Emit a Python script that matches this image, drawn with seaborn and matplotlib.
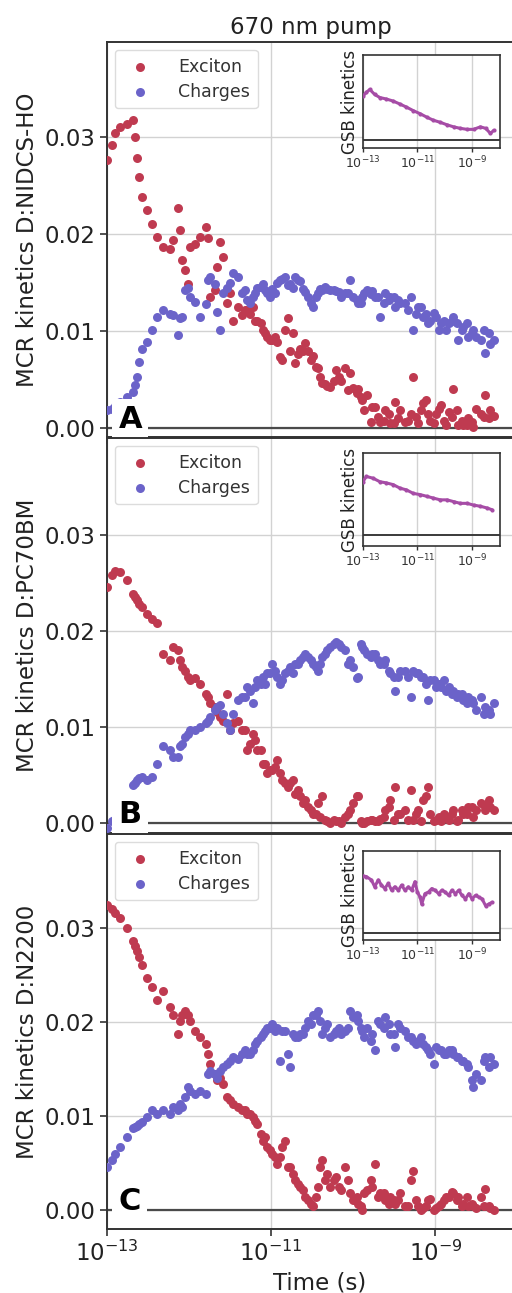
import numpy as np
import matplotlib
matplotlib.use("Agg")
import matplotlib.pyplot as plt
import seaborn as sns
from matplotlib import transforms
from matplotlib.ticker import FormatStrFormatter, NullLocator

# ---------------- data ----------------
# time grid 1, log10(seconds)
log_time = [-13.00, -12.94, -12.90, -12.84, -12.76, -12.68, -12.66, -12.63, -12.61, -12.57,
            -12.51, -12.45, -12.39, -12.32, -12.23, -12.20, -12.13, -12.11, -12.09, -12.05,
            -12.01, -11.99, -11.93, -11.87, -11.80, -11.77, -11.74, -11.68, -11.66, -11.62,
            -11.59, -11.54, -11.50, -11.46, -11.41, -11.35, -11.29, -11.22, -11.17, -11.10,
            -11.05, -10.99, -10.93, -10.89, -10.83, -10.79, -10.73, -10.71, -10.65, -10.59,
            -10.55, -10.49, -10.43, -10.38, -10.32, -10.24, -10.18, -10.10, -10.04, -10.00,
            -9.94, -9.89, -9.83, -9.79, -9.73, -9.67, -9.61, -9.55, -9.49, -9.45,
            -9.37, -9.30, -9.27, -9.21, -9.15, -9.09, -9.02, -8.96, -8.90, -8.84,
            -8.78, -8.72, -8.66, -8.60, -8.54, -8.45, -8.39, -8.35, -8.29]
# time grid 2 (interleaved points at later times), log10(seconds)
log_time_2 = [-11.32, -11.26, -11.20, -11.13, -11.07, -11.01, -10.95, -10.87, -10.77, -10.67,
              -10.61, -10.52, -10.46, -10.40, -10.34, -10.28, -10.21, -10.15, -10.06, -9.96,
              -9.91, -9.87, -9.77, -9.70, -9.63, -9.57, -9.51, -9.43, -9.33, -9.24,
              -9.18, -9.12, -9.06, -8.99, -8.93, -8.87, -8.80, -8.74, -8.68, -8.62,
              -8.56, -8.50, -8.41, -8.33]

exciton_A = [0.0276, 0.0292, 0.0304, 0.0310, 0.0314, 0.0318, 0.0300, 0.0279, 0.0259, 0.0238,
             0.0225, 0.0211, 0.0197, 0.0187, 0.0185, 0.0194, 0.0227, 0.0204, 0.0173, 0.0163,
             0.0149, 0.0187, 0.0190, 0.0197, 0.0207, 0.0196, 0.0135, 0.0142, 0.0166, 0.0192,
             0.0176, 0.0129, 0.0139, 0.0111, 0.0125, 0.0117, 0.0122, 0.0125, 0.0111, 0.0101,
             0.0094, 0.0091, 0.0089, 0.0073, 0.0101, 0.0114, 0.0098, 0.0067, 0.0082, 0.0088,
             0.0080, 0.0075, 0.0062, 0.0047, 0.0044, 0.0049, 0.0053, 0.0062, 0.0057, 0.0042,
             0.0041, 0.0029, 0.0034, 0.0006, 0.0022, 0.0006, 0.0019, 0.0005, 0.0027, 0.0011,
             0.0006, 0.0015, 0.0053, 0.0005, 0.0026, 0.0015, 0.0005, 0.0020, 0.0008, 0.0017,
             0.0041, 0.0003, 0.0003, 0.0011, 0.0001, 0.0015, 0.0034, 0.0011, 0.0013]
exciton_A2 = [0.0122, 0.0118, 0.0111, 0.0108, 0.0098, 0.0091, 0.0094, 0.0070, 0.0080, 0.0077,
              0.0080, 0.0070, 0.0063, 0.0053, 0.0046, 0.0043, 0.0060, 0.0049, 0.0039, 0.0036,
              0.0032, 0.0019, 0.0022, 0.0012, 0.0008, 0.0015, 0.0005, 0.0019, 0.0008, 0.0012,
              0.0019, 0.0029, 0.0008, 0.0015, 0.0024, 0.0003, 0.0012, 0.0019, 0.0008, 0.0003,
              0.0007, 0.0020, 0.0012, 0.0019]
charges_A = [0.0019, 0.0020, 0.0023, 0.0027, 0.0032, 0.0037, 0.0045, 0.0053, 0.0068, 0.0082,
             0.0089, 0.0101, 0.0115, 0.0122, 0.0118, 0.0117, 0.0096, 0.0114, 0.0115, 0.0142,
             0.0145, 0.0135, 0.0130, 0.0115, 0.0128, 0.0153, 0.0156, 0.0149, 0.0120, 0.0101,
             0.0139, 0.0145, 0.0150, 0.0160, 0.0156, 0.0139, 0.0132, 0.0135, 0.0145, 0.0149,
             0.0139, 0.0144, 0.0150, 0.0153, 0.0156, 0.0148, 0.0145, 0.0156, 0.0152, 0.0140,
             0.0135, 0.0125, 0.0139, 0.0142, 0.0144, 0.0143, 0.0140, 0.0139, 0.0153, 0.0135,
             0.0129, 0.0135, 0.0142, 0.0138, 0.0135, 0.0115, 0.0139, 0.0135, 0.0125, 0.0132,
             0.0129, 0.0135, 0.0101, 0.0125, 0.0115, 0.0108, 0.0119, 0.0101, 0.0111, 0.0108,
             0.0115, 0.0091, 0.0104, 0.0094, 0.0101, 0.0091, 0.0078, 0.0098, 0.0091]
charges_A2 = [0.0142, 0.0129, 0.0139, 0.0146, 0.0142, 0.0135, 0.0139, 0.0154, 0.0149, 0.0153,
              0.0144, 0.0129, 0.0135, 0.0144, 0.0146, 0.0142, 0.0141, 0.0135, 0.0139, 0.0132,
              0.0129, 0.0139, 0.0141, 0.0135, 0.0129, 0.0132, 0.0135, 0.0129, 0.0122, 0.0118,
              0.0125, 0.0118, 0.0111, 0.0115, 0.0108, 0.0101, 0.0111, 0.0108, 0.0101, 0.0108,
              0.0098, 0.0094, 0.0101, 0.0087]

exciton_B = [0.0246, 0.0258, 0.0263, 0.0261, 0.0253, 0.0239, 0.0235, 0.0232, 0.0228, 0.0225,
             0.0218, 0.0213, 0.0208, 0.0176, 0.0170, 0.0183, 0.0180, 0.0170, 0.0163, 0.0159,
             0.0152, 0.0149, 0.0151, 0.0145, 0.0135, 0.0131, 0.0125, 0.0121, 0.0116, 0.0111,
             0.0107, 0.0135, 0.0097, 0.0104, 0.0107, 0.0097, 0.0076, 0.0093, 0.0076, 0.0062,
             0.0052, 0.0055, 0.0066, 0.0052, 0.0042, 0.0038, 0.0045, 0.0031, 0.0028, 0.0024,
             0.0017, 0.0010, 0.0021, 0.0028, 0.0002, 0.0003, 0.0002, 0.0007, 0.0014, 0.0021,
             0.0028, 0.0000, 0.0002, 0.0003, 0.0002, 0.0005, 0.0014, 0.0024, 0.0038, 0.0010,
             0.0014, 0.0035, 0.0003, 0.0014, 0.0024, 0.0038, 0.0002, 0.0007, 0.0010, 0.0003,
             0.0014, 0.0003, 0.0010, 0.0017, 0.0007, 0.0021, 0.0014, 0.0024, 0.0014]
exciton_B2 = [0.0097, 0.0083, 0.0087, 0.0076, 0.0062, 0.0055, 0.0059, 0.0045, 0.0042, 0.0035,
              0.0021, 0.0014, 0.0010, 0.0007, 0.0003, 0.0000, 0.0002, 0.0000, 0.0010, 0.0028,
              0.0002, 0.0000, 0.0003, 0.0002, 0.0007, 0.0017, 0.0003, 0.0010, 0.0003, 0.0010,
              0.0002, 0.0028, 0.0010, 0.0003, 0.0002, 0.0007, 0.0010, 0.0002, 0.0014, 0.0010,
              0.0017, 0.0014, 0.0019, 0.0017]
charges_B = [-0.0005, 0.0002, 0.0005, 0.0010, 0.0018, 0.0040, 0.0042, 0.0045, 0.0047, 0.0048,
             0.0045, 0.0048, 0.0062, 0.0080, 0.0076, 0.0069, 0.0069, 0.0080, 0.0083, 0.0090,
             0.0093, 0.0097, 0.0097, 0.0100, 0.0104, 0.0107, 0.0111, 0.0118, 0.0121, 0.0123,
             0.0114, 0.0104, 0.0097, 0.0114, 0.0128, 0.0131, 0.0142, 0.0125, 0.0149, 0.0152,
             0.0156, 0.0166, 0.0152, 0.0145, 0.0156, 0.0159, 0.0156, 0.0166, 0.0170, 0.0176,
             0.0173, 0.0166, 0.0159, 0.0173, 0.0180, 0.0187, 0.0187, 0.0180, 0.0170, 0.0163,
             0.0152, 0.0183, 0.0176, 0.0173, 0.0176, 0.0166, 0.0170, 0.0156, 0.0138, 0.0152,
             0.0159, 0.0131, 0.0159, 0.0156, 0.0152, 0.0128, 0.0149, 0.0145, 0.0149, 0.0142,
             0.0138, 0.0135, 0.0128, 0.0131, 0.0125, 0.0131, 0.0121, 0.0118, 0.0125]
charges_B2 = [0.0131, 0.0138, 0.0142, 0.0145, 0.0145, 0.0156, 0.0159, 0.0149, 0.0163, 0.0166,
              0.0173, 0.0170, 0.0163, 0.0166, 0.0176, 0.0183, 0.0189, 0.0183, 0.0166, 0.0151,
              0.0187, 0.0180, 0.0176, 0.0170, 0.0166, 0.0159, 0.0152, 0.0159, 0.0152, 0.0156,
              0.0152, 0.0145, 0.0149, 0.0142, 0.0142, 0.0138, 0.0135, 0.0131, 0.0135, 0.0125,
              0.0128, 0.0118, 0.0114, 0.0114]

exciton_C = [0.0325, 0.0320, 0.0316, 0.0311, 0.0300, 0.0286, 0.0281, 0.0276, 0.0269, 0.0261,
             0.0247, 0.0237, 0.0223, 0.0233, 0.0216, 0.0208, 0.0187, 0.0201, 0.0208, 0.0212,
             0.0208, 0.0201, 0.0191, 0.0184, 0.0177, 0.0166, 0.0155, 0.0145, 0.0138, 0.0141,
             0.0134, 0.0120, 0.0117, 0.0113, 0.0110, 0.0106, 0.0102, 0.0099, 0.0092, 0.0074,
             0.0067, 0.0060, 0.0049, 0.0057, 0.0074, 0.0046, 0.0039, 0.0032, 0.0025, 0.0014,
             0.0011, 0.0004, 0.0025, 0.0053, 0.0039, 0.0032, 0.0025, 0.0046, 0.0018, 0.0011,
             0.0007, 0.0000, 0.0021, 0.0032, 0.0049, 0.0018, 0.0011, 0.0014, 0.0007, 0.0011,
             0.0004, 0.0032, 0.0042, 0.0004, 0.0002, 0.0011, 0.0000, 0.0004, 0.0011, 0.0014,
             0.0018, 0.0014, 0.0007, 0.0004, 0.0004, 0.0014, 0.0023, 0.0004, 0.0000]
exciton_C2 = [0.0106, 0.0102, 0.0095, 0.0081, 0.0078, 0.0064, 0.0057, 0.0067, 0.0046, 0.0028,
              0.0021, 0.0007, 0.0014, 0.0046, 0.0032, 0.0025, 0.0035, 0.0021, 0.0032, 0.0014,
              0.0004, 0.0018, 0.0025, 0.0014, 0.0018, 0.0007, 0.0011, 0.0018, 0.0004, 0.0011,
              0.0000, 0.0004, 0.0012, 0.0002, 0.0007, 0.0014, 0.0019, 0.0011, 0.0004, 0.0014,
              0.0007, 0.0002, 0.0004, 0.0002]
charges_C = [0.0046, 0.0053, 0.0060, 0.0067, 0.0078, 0.0087, 0.0088, 0.0090, 0.0092, 0.0094,
             0.0099, 0.0106, 0.0102, 0.0106, 0.0102, 0.0110, 0.0106, 0.0113, 0.0110, 0.0120,
             0.0131, 0.0127, 0.0124, 0.0127, 0.0124, 0.0145, 0.0148, 0.0145, 0.0141, 0.0148,
             0.0152, 0.0155, 0.0159, 0.0163, 0.0161, 0.0166, 0.0166, 0.0170, 0.0180, 0.0187,
             0.0194, 0.0198, 0.0194, 0.0159, 0.0191, 0.0166, 0.0187, 0.0184, 0.0187, 0.0194,
             0.0201, 0.0208, 0.0212, 0.0187, 0.0198, 0.0187, 0.0194, 0.0191, 0.0212, 0.0205,
             0.0201, 0.0191, 0.0194, 0.0180, 0.0170, 0.0198, 0.0205, 0.0187, 0.0173, 0.0198,
             0.0191, 0.0184, 0.0180, 0.0180, 0.0177, 0.0170, 0.0155, 0.0170, 0.0166, 0.0170,
             0.0166, 0.0163, 0.0159, 0.0152, 0.0131, 0.0138, 0.0163, 0.0152, 0.0155]
charges_C2 = [0.0170, 0.0166, 0.0177, 0.0184, 0.0191, 0.0194, 0.0191, 0.0191, 0.0152, 0.0184,
              0.0187, 0.0198, 0.0208, 0.0201, 0.0194, 0.0184, 0.0191, 0.0187, 0.0194, 0.0208,
              0.0194, 0.0184, 0.0187, 0.0201, 0.0194, 0.0198, 0.0187, 0.0194, 0.0184, 0.0177,
              0.0184, 0.0173, 0.0166, 0.0173, 0.0170, 0.0166, 0.0170, 0.0163, 0.0159, 0.0155,
              0.0138, 0.0145, 0.0159, 0.0163]

# GSB insets (normalised), log10(seconds) and value
gsb_time_A = [-13.0, -12.88, -12.75, -12.57, -12.38, -12.14, -11.89, -11.64, -11.4, -11.15,
              -10.9, -10.65, -10.41, -10.16, -9.91, -9.67, -9.42, -9.17, -8.93, -8.68,
              -8.49, -8.31, -8.19]
gsb_A = [0.87, 0.94, 1.00, 0.90, 0.84, 0.81, 0.77, 0.71, 0.65, 0.58,
         0.52, 0.45, 0.39, 0.35, 0.30, 0.26, 0.23, 0.21, 0.21, 0.26,
         0.23, 0.13, 0.19]
gsb_time_B = [-13.0, -12.88, -12.63, -12.38, -12.14, -11.89, -11.64, -11.4, -11.15, -10.9,
              -10.65, -10.41, -10.16, -9.91, -9.67, -9.42, -9.17, -8.93, -8.68, -8.43, -8.25]
gsb_B = [0.91, 1.00, 0.97, 0.91, 0.89, 0.86, 0.80, 0.77, 0.71, 0.69,
         0.66, 0.63, 0.60, 0.60, 0.57, 0.54, 0.54, 0.51, 0.49, 0.46, 0.43]
gsb_time_C = [-13.0, -12.88, -12.69, -12.57, -12.44, -12.32, -12.2, -12.07, -11.95, -11.83,
              -11.7, -11.58, -11.46, -11.33, -11.21, -11.09, -11.0, -10.9, -10.84, -10.72,
              -10.59, -10.47, -10.35, -10.22, -10.1, -9.98, -9.85, -9.73, -9.6, -9.48,
              -9.36, -9.23, -9.11, -8.99, -8.86, -8.74, -8.62, -8.49, -8.37, -8.25]
gsb_C = [1.00, 0.99, 0.93, 0.81, 0.93, 0.84, 0.78, 0.87, 0.75, 0.81,
         0.75, 0.84, 0.75, 0.81, 0.75, 0.90, 0.72, 0.63, 0.51, 0.69,
         0.72, 0.78, 0.75, 0.69, 0.75, 0.72, 0.66, 0.75, 0.69, 0.75,
         0.66, 0.60, 0.69, 0.60, 0.66, 0.63, 0.60, 0.48, 0.51, 0.54]

panel_letters = ["A", "B", "C"]
panel_ylabels = ["MCR kinetics D:NIDCS-HO", "MCR kinetics D:PC70BM", "MCR kinetics D:N2200"]
series_names = ["Exciton", "Charges"]
title_text = "670 nm pump"
xlabel_text = "Time (s)"
inset_ylabel = "GSB kinetics"

# ---------------- style ----------------
sns.set_style("ticks")
plt.rcParams["font.family"] = ["DejaVu Sans"]
RED = "#bf3a50"
BLUE = "#6b63c9"
PURPLE = "#a64ca6"
SPINE = "#333333"
GRID = "#d2d2d2"

fig = plt.figure(figsize=(5.12, 12.93), dpi=100)

t_all = 10.0 ** np.concatenate([log_time, log_time_2])
exc_all = [exciton_A + exciton_A2, exciton_B + exciton_B2, exciton_C + exciton_C2]
chg_all = [charges_A + charges_A2, charges_B + charges_B2, charges_C + charges_C2]
gsb_t_all = [gsb_time_A, gsb_time_B, gsb_time_C]
gsb_v_all = [gsb_A, gsb_B, gsb_C]

# layout (figure fractions); main axes run past the right edge of the figure
ax_left, ax_width = 0.209, 0.83
ax_bottoms = [0.662, 0.3558, 0.0495]
ax_height = 0.3055
ylims = [(-0.0009, 0.0398), (-0.0010, 0.0401), (-0.0020, 0.0400)]
inset_bottoms = [0.8855, 0.5777, 0.2730]
inset_heights = [0.0719, 0.0719, 0.0690]
inset_ylims = [(-0.16, 1.68), (-0.19, 1.40), (-0.12, 1.44)]

prev = None
for i in range(3):
    ax = fig.add_axes([ax_left, ax_bottoms[i], ax_width, ax_height], sharex=prev)
    prev = ax
    ax.set_xscale("log")
    ax.grid(True, color=GRID, lw=1.0, zorder=0)
    ax.set_axisbelow(True)
    ax.axhline(0, color="#4a4a4a", lw=1.6, zorder=2)
    sns.scatterplot(x=t_all, y=exc_all[i], ax=ax, color=RED, s=42, linewidth=0,
                    label=series_names[0], zorder=3)
    sns.scatterplot(x=t_all, y=chg_all[i], ax=ax, color=BLUE, s=42, linewidth=0,
                    label=series_names[1], zorder=3)
    ax.set_xlim(1e-13, 1.5e-8)
    ax.set_ylim(*ylims[i])
    ax.set_yticks([0.0, 0.01, 0.02, 0.03])
    ax.yaxis.set_major_formatter(FormatStrFormatter("%.2f"))
    ax.set_xticks([1e-13, 1e-11, 1e-9])
    ax.xaxis.set_minor_locator(NullLocator())
    ax.tick_params(labelsize=16.5, length=5, width=1.2, color=SPINE, labelcolor="#222222")
    for sp in ax.spines.values():
        sp.set_color(SPINE)
        sp.set_linewidth(1.4)
    ax.spines["right"].set_visible(False)
    ax.set_ylabel(panel_ylabels[i], fontsize=16.5, color="#222222")
    leg = ax.legend(loc="upper left", fontsize=12.5, frameon=True, framealpha=1,
                    edgecolor="#dcdcdc", fancybox=True, borderaxespad=0.45,
                    handletextpad=1.2, borderpad=0.45, labelspacing=0.4)
    for txt in leg.get_texts():
        txt.set_color("#333333")
    trans = transforms.blended_transform_factory(ax.transAxes, ax.transData)
    ax.text(0.027, 0.0, panel_letters[i], transform=trans, fontsize=22, fontweight="bold",
            ha="left", va="baseline", color="black", zorder=6,
            bbox=dict(facecolor="white", edgecolor="none", pad=4.5))
    if i < 2:
        ax.tick_params(labelbottom=False)
        ax.set_xlabel("")
    else:
        ax.set_xlabel(xlabel_text, fontsize=16.5, color="#222222")
    if i == 0:
        ax.set_title(title_text, fontsize=16.5, x=0.48, pad=6, color="#222222")

    # inset
    ins = fig.add_axes([0.709, inset_bottoms[i], 0.2676, inset_heights[i]])
    ins.set_xscale("log")
    ins.grid(True, axis="x", color=GRID, lw=1.0)
    ins.set_axisbelow(True)
    ins.axhline(0, color="#3a3a3a", lw=1.4, zorder=2)
    sns.lineplot(x=10.0 ** np.array(gsb_t_all[i]), y=gsb_v_all[i], ax=ins, color=PURPLE,
                 lw=2.2, marker="o", markersize=3, markeredgewidth=0,
                 estimator=None, sort=False, zorder=3)
    ins.set_xlim(1e-13, 1.1e-8)
    ins.set_ylim(*inset_ylims[i])
    ins.set_xticks([1e-13, 1e-11, 1e-9])
    ins.xaxis.set_minor_locator(NullLocator())
    ins.set_yticks([])
    ins.tick_params(labelsize=9, length=3, width=1.0, color=SPINE, labelcolor="#333333", pad=2)
    for sp in ins.spines.values():
        sp.set_color(SPINE)
        sp.set_linewidth(1.2)
    ins.set_ylabel(inset_ylabel, fontsize=12, labelpad=3, color="#222222")
    ins.set_xlabel("")

fig.savefig("out.png", dpi=100)
